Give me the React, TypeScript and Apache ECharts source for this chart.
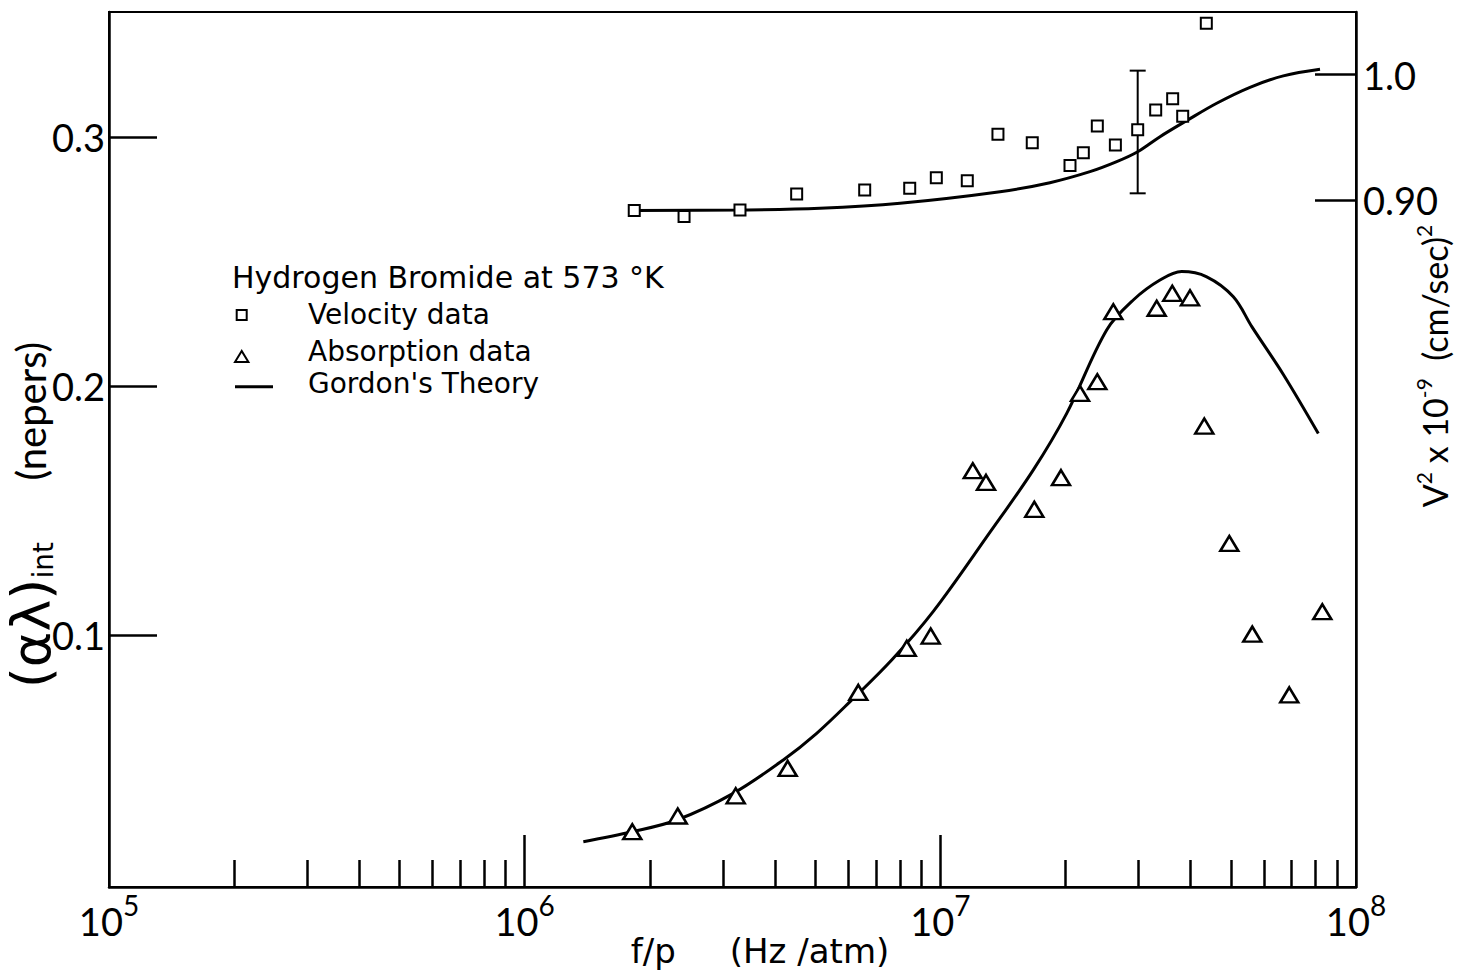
import React, { useEffect, useRef } from 'react';
import * as echarts from 'echarts';

// ---- axis ticks / labels ----
const DECADES = [1e5, 1e6, 1e7, 1e8];
const MAJOR_TICKS = [1e6, 1e7];
const MINOR_TICKS = [
  2e5, 3e5, 4e5, 5e5, 6e5, 7e5, 8e5, 9e5,
  2e6, 3e6, 4e6, 5e6, 6e6, 7e6, 8e6, 9e6,
  2e7, 3e7, 4e7, 5e7, 6e7, 7e7, 8e7, 9e7,
];
const LEFT_TICKS = [0.1, 0.2, 0.3];
const LEFT_TICK_LABELS = ['0.1', '0.2', '0.3'];
const RIGHT_TICKS = [0.9, 1.0];
const RIGHT_TICK_LABELS = ['0.90', '1.0'];

// ---- velocity data (right axis, V^2 x 1e-9) ----
const VEL_F = [1.835e6, 2.418e6, 3.296e6, 4.512e6, 6.577e6, 8.44e6, 9.78e6, 1.161e7, 1.376e7, 1.664e7,
  2.051e7, 2.208e7, 2.386e7, 2.637e7, 2.984e7, 3.297e7, 3.622e7, 3.829e7, 4.364e7];
const VEL_V = [0.8915, 0.8867, 0.892, 0.9048, 0.908, 0.9093, 0.9178, 0.9154, 0.9524, 0.9457,
  0.9274, 0.9377, 0.959, 0.9439, 0.9561, 0.9718, 0.9808, 0.9668, 1.041];

// Gordon's theory for velocity
const VEL_TH_F = [1.832e6, 3.296e6, 5.133e6, 8.0e6, 1.392e7, 1.835e7, 2.291e7, 2.657e7, 2.984e7, 3.377e7,
  3.914e7, 4.623e7, 5.559e7, 6.686e7, 8.193e7];
const VEL_TH_V = [0.8915, 0.892, 0.8934, 0.8974, 0.9066, 0.9138, 0.9226, 0.9306, 0.9385, 0.9505,
  0.9633, 0.9772, 0.9899, 0.999, 1.0043];

// error bar on velocity
const ERR_F = [2.984e7];
const ERR_LOW = [0.9053];
const ERR_HIGH = [1.0032];

// ---- absorption data (left axis, nepers) ----
const ABS_F = [1.815e6, 2.335e6, 3.219e6, 4.293e6, 6.348e6, 8.302e6, 9.48e6, 1.197e7, 1.288e7, 1.683e7,
  1.951e7, 2.168e7, 2.386e7, 2.607e7, 3.315e7, 3.614e7, 3.987e7, 4.315e7, 4.957e7, 5.629e7, 6.909e7, 8.297e7];
const ABS_V = [0.0212, 0.0275, 0.0356, 0.0466, 0.0771, 0.0948, 0.0997, 0.1661, 0.1614, 0.1506,
  0.1633, 0.1971, 0.2018, 0.2299, 0.2313, 0.2373, 0.2355, 0.184, 0.1369, 0.1005, 0.0761, 0.1095];

// Gordon's theory for absorption
const ABS_TH_F = [1.384e6, 1.815e6, 2.322e6, 3.176e6, 4.19e6, 5.041e6, 6.065e6, 7.638e6, 9.618e6,
  1.317e7, 1.674e7, 2.014e7, 2.513e7, 2.912e7, 3.377e7, 3.808e7, 4.374e7, 5.069e7, 5.62e7, 6.686e7, 8.116e7];
const ABS_TH_V = [0.0172, 0.0212, 0.0259, 0.0366, 0.05, 0.0607, 0.0734, 0.0901, 0.1096,
  0.1414, 0.1664, 0.1891, 0.2226, 0.2346, 0.2426, 0.246, 0.2439, 0.2359, 0.2238, 0.2047, 0.1810];

const LEGEND_TITLE = 'Hydrogen Bromide at 573 °K';
const LEGEND_ITEMS = ['Velocity data', 'Absorption data', "Gordon's Theory"];

const zip = (a: number[], b: number[]) => a.map((v, i) => [v, b[i]]);
const nearestLabel = (v: number, ticks: number[], labels: string[]) => {
  let best = 0;
  ticks.forEach((t, i) => { if (Math.abs(t - v) < Math.abs(ticks[best] - v)) best = i; });
  return labels[best];
};

const BLACK = '#000';
const DIGIT_FONT = 'Lato';
const TEXT_FONT = 'DejaVu Sans';
const GRID = { left: 109, right: 101, top: 12, bottom: 88 };

export default function App() {
  const ref = useRef<HTMLDivElement>(null);

  useEffect(() => {
    if (!ref.current) return;
    const chart = echarts.init(ref.current, undefined, { renderer: 'svg' });
    const lineStyle = { color: BLACK, width: 2.5 };

    const option: any = {
      animation: false,
      backgroundColor: '#fff',
      grid: [
        { ...GRID, show: true, borderColor: BLACK, borderWidth: 2, backgroundColor: 'transparent' },
        { ...GRID, show: false },
      ],
      xAxis: [
        {
          type: 'log', gridIndex: 0, min: 1e5, max: 1e8, logBase: 10, position: 'bottom',
          axisLine: { show: true, onZero: false, lineStyle },
          axisTick: { show: true, inside: true, length: 52, customValues: MAJOR_TICKS, lineStyle },
          axisLabel: {
            show: true, customValues: DECADES, margin: 4,
            formatter: (v: number) => `{b|10}{s|${Math.round(Math.log10(v))}}`,
            rich: {
              b: { fontFamily: DIGIT_FONT, fontSize: 38, color: BLACK, lineHeight: 60 },
              s: { fontFamily: DIGIT_FONT, fontSize: 28, color: BLACK, lineHeight: 28, verticalAlign: 'top' },
            },
          },
          splitLine: { show: false },
          minorTick: { show: false },
        },
        {
          type: 'log', gridIndex: 1, min: 1e5, max: 1e8, logBase: 10, position: 'bottom',
          axisLine: { show: false, onZero: false },
          axisTick: { show: true, inside: true, length: 27, customValues: MINOR_TICKS, lineStyle },
          axisLabel: { show: false },
          splitLine: { show: false },
        },
      ],
      yAxis: [
        {
          type: 'value', gridIndex: 0, position: 'left', min: -0.001, max: 0.3502,
          axisLine: { show: true, onZero: false, lineStyle },
          axisTick: { show: true, inside: true, length: 48, customValues: LEFT_TICKS, lineStyle },
          axisLabel: {
            show: true, customValues: LEFT_TICKS, margin: 4, padding: [8, 0, 0, 0],
            fontFamily: DIGIT_FONT, fontSize: 38, color: BLACK,
            formatter: (v: number) => nearestLabel(v, LEFT_TICKS, LEFT_TICK_LABELS),
          },
          splitLine: { show: false },
        },
        {
          type: 'value', gridIndex: 0, position: 'right', min: 0.3517, max: 1.05,
          axisLine: { show: true, onZero: false, lineStyle },
          axisTick: { show: true, inside: true, length: 41, customValues: RIGHT_TICKS, lineStyle },
          axisLabel: {
            show: true, customValues: RIGHT_TICKS, margin: 7,
            fontFamily: DIGIT_FONT, fontSize: 38, color: BLACK,
            formatter: (v: number) => nearestLabel(v, RIGHT_TICKS, RIGHT_TICK_LABELS),
          },
          splitLine: { show: false },
        },
        { type: 'value', gridIndex: 1, show: false, min: 0, max: 1 },
      ],
      series: [
        {
          name: 'Velocity theory', type: 'line', xAxisIndex: 0, yAxisIndex: 1,
          data: zip(VEL_TH_F, VEL_TH_V), smooth: 0.35, showSymbol: false, symbol: 'none',
          lineStyle: { color: BLACK, width: 3 }, z: 2,
        },
        {
          name: 'Absorption theory', type: 'line', xAxisIndex: 0, yAxisIndex: 0,
          data: zip(ABS_TH_F, ABS_TH_V), smooth: 0.35, showSymbol: false, symbol: 'none',
          lineStyle: { color: BLACK, width: 3 }, z: 2,
        },
        {
          name: 'Error bar', type: 'custom', xAxisIndex: 0, yAxisIndex: 1,
          data: ERR_F.map((f, i) => [f, ERR_LOW[i], ERR_HIGH[i]]),
          encode: { x: 0, y: [1, 2] },
          renderItem: (params: any, api: any) => {
            const x = api.value(0);
            const lo = api.coord([x, api.value(1)]);
            const hi = api.coord([x, api.value(2)]);
            const w = 8;
            const st = { stroke: BLACK, lineWidth: 2 };
            return {
              type: 'group',
              children: [
                { type: 'line', shape: { x1: lo[0], y1: lo[1], x2: hi[0], y2: hi[1] }, style: st },
                { type: 'line', shape: { x1: lo[0] - w, y1: lo[1], x2: lo[0] + w, y2: lo[1] }, style: st },
                { type: 'line', shape: { x1: hi[0] - w, y1: hi[1], x2: hi[0] + w, y2: hi[1] }, style: st },
              ],
            };
          },
          z: 3,
        },
        {
          name: 'Velocity data', type: 'scatter', xAxisIndex: 0, yAxisIndex: 1,
          data: zip(VEL_F, VEL_V), symbol: 'rect', symbolSize: 11,
          itemStyle: { color: '#fff', borderColor: BLACK, borderWidth: 2, opacity: 1 }, z: 4,
        },
        {
          name: 'Absorption data', type: 'scatter', xAxisIndex: 0, yAxisIndex: 0,
          data: zip(ABS_F, ABS_V), symbol: 'triangle', symbolSize: [18, 15],
          itemStyle: { color: '#fff', borderColor: BLACK, borderWidth: 2.5, opacity: 1 }, z: 4,
        },
      ],
      graphic: [
        // legend
        {
          type: 'text', x: 232, y: 277,
          style: { text: LEGEND_TITLE, fontFamily: TEXT_FONT, fontSize: 30, fill: BLACK, align: 'left', verticalAlign: 'middle' },
        },
        {
          type: 'rect', shape: { x: 236.7, y: 310, width: 10, height: 10 },
          style: { fill: '#fff', stroke: BLACK, lineWidth: 2 },
        },
        {
          type: 'text', x: 308, y: 314,
          style: { text: LEGEND_ITEMS[0], fontFamily: TEXT_FONT, fontSize: 28, fill: BLACK, align: 'left', verticalAlign: 'middle' },
        },
        {
          type: 'polygon', shape: { points: [[241.7, 351], [235, 362], [248.4, 362]] },
          style: { fill: '#fff', stroke: BLACK, lineWidth: 2 },
        },
        {
          type: 'text', x: 308, y: 351,
          style: { text: LEGEND_ITEMS[1], fontFamily: TEXT_FONT, fontSize: 28, fill: BLACK, align: 'left', verticalAlign: 'middle' },
        },
        {
          type: 'line', shape: { x1: 235, y1: 386.7, x2: 273, y2: 386.7 },
          style: { stroke: BLACK, lineWidth: 3 },
        },
        {
          type: 'text', x: 308, y: 383,
          style: { text: LEGEND_ITEMS[2], fontFamily: TEXT_FONT, fontSize: 28, fill: BLACK, align: 'left', verticalAlign: 'middle' },
        },
        // x axis title
        {
          type: 'text', x: 760, y: 951,
          style: { text: 'f/p     (Hz /atm)', fontFamily: TEXT_FONT, fontSize: 34, fill: BLACK, align: 'center', verticalAlign: 'middle' },
        },
        // left axis title
        {
          type: 'text', x: 31, y: 515, rotation: Math.PI / 2,
          style: {
            text: '{g|(αλ)}{sub|int}{a|      (nepers)}',
            align: 'center', verticalAlign: 'middle', fill: BLACK,
            rich: {
              g: { fontFamily: TEXT_FONT, fontSize: 54, lineHeight: 52, fill: BLACK },
              sub: { fontFamily: TEXT_FONT, fontSize: 28, lineHeight: 24, verticalAlign: 'bottom', fill: BLACK },
              a: { fontFamily: DIGIT_FONT, fontSize: 40, lineHeight: 52, fill: BLACK },
            },
          },
        },
        // right axis title
        {
          type: 'text', x: 1434, y: 366, rotation: Math.PI / 2,
          style: {
            text: '{a|V}{s|2}{a| x 10}{s|-9}{a|  (cm/sec)}{s|2}',
            align: 'center', verticalAlign: 'middle', fill: BLACK,
            rich: {
              a: { fontFamily: DIGIT_FONT, fontSize: 34, lineHeight: 42, fill: BLACK },
              s: { fontFamily: DIGIT_FONT, fontSize: 21, lineHeight: 21, verticalAlign: 'top', fill: BLACK },
            },
          },
        },
      ],
    };

    chart.setOption(option);
    return () => chart.dispose();
  }, []);

  return (
    <div
      ref={ref}
      style={{ position: 'fixed', left: 0, top: 0, width: 1457, height: 975, background: '#fff' }}
    />
  );
}
